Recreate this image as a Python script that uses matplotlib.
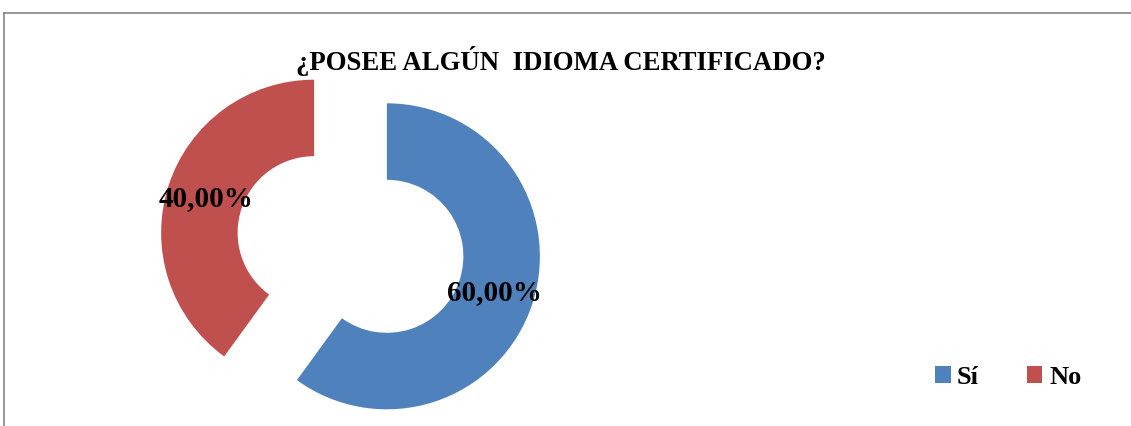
import matplotlib.pyplot as plt
from matplotlib.lines import Line2D

# datos del gráfico
categorias = ['Sí', 'No']
porcentajes = [60.0, 40.0]
colores = ['#4F81BD', '#C0504D']
titulo = '¿POSEE ALGÚN  IDIOMA CERTIFICADO?'

fuente = 'Liberation Serif'

fig = plt.figure(figsize=(11.31, 4.27), dpi=100)

# marco gris (solo se ven los bordes superior e izquierdo)
W, H = 1131, 427
fig.add_artist(Line2D([4 / W, 1], [1 - 14 / H, 1 - 14 / H], color='#868686', lw=1.2))
fig.add_artist(Line2D([4 / W, 4 / W], [0, 1 - 14 / H], color='#868686', lw=1.2))

# ejes cuadrados: 1 unidad = 153 px, centro del donut en (350.5, 245.5) px
r_px = 153
lim = 1.3
side = 2 * lim * r_px
cx, cy = 350.5, H - 245.5
ax = fig.add_axes([(cx - side / 2) / W, (cy - side / 2) / H, side / W, side / H])

wedges, texts, autotexts = ax.pie(
    porcentajes, colors=colores, startangle=90, counterclock=False,
    explode=[0.25, 0.25], radius=1.0,
    wedgeprops=dict(width=0.5, edgecolor='none'),
    autopct=lambda p: ('%.2f%%' % p).replace('.', ','), pctdistance=0.74,
    textprops=dict(fontsize=21, fontweight='bold', family=fuente, color='black'))
for w in wedges:
    w.set_clip_on(False)
ax.set_xlim(-lim, lim)
ax.set_ylim(-lim, lim)
ax.axis('off')

fig.text(561 / W, 1 - 61 / H, titulo, ha='center', va='center',
         fontsize=19.3, fontweight='bold', family=fuente)

fig.legend(wedges, categorias, loc='center', bbox_to_anchor=(1008 / W, 1 - 378 / H),
           ncol=2, frameon=False, handlelength=0.6, handleheight=0.6,
           handletextpad=0.25, columnspacing=1.8,
           prop=dict(family=fuente, weight='bold', size=19))

fig.savefig('out.png', dpi=100)
